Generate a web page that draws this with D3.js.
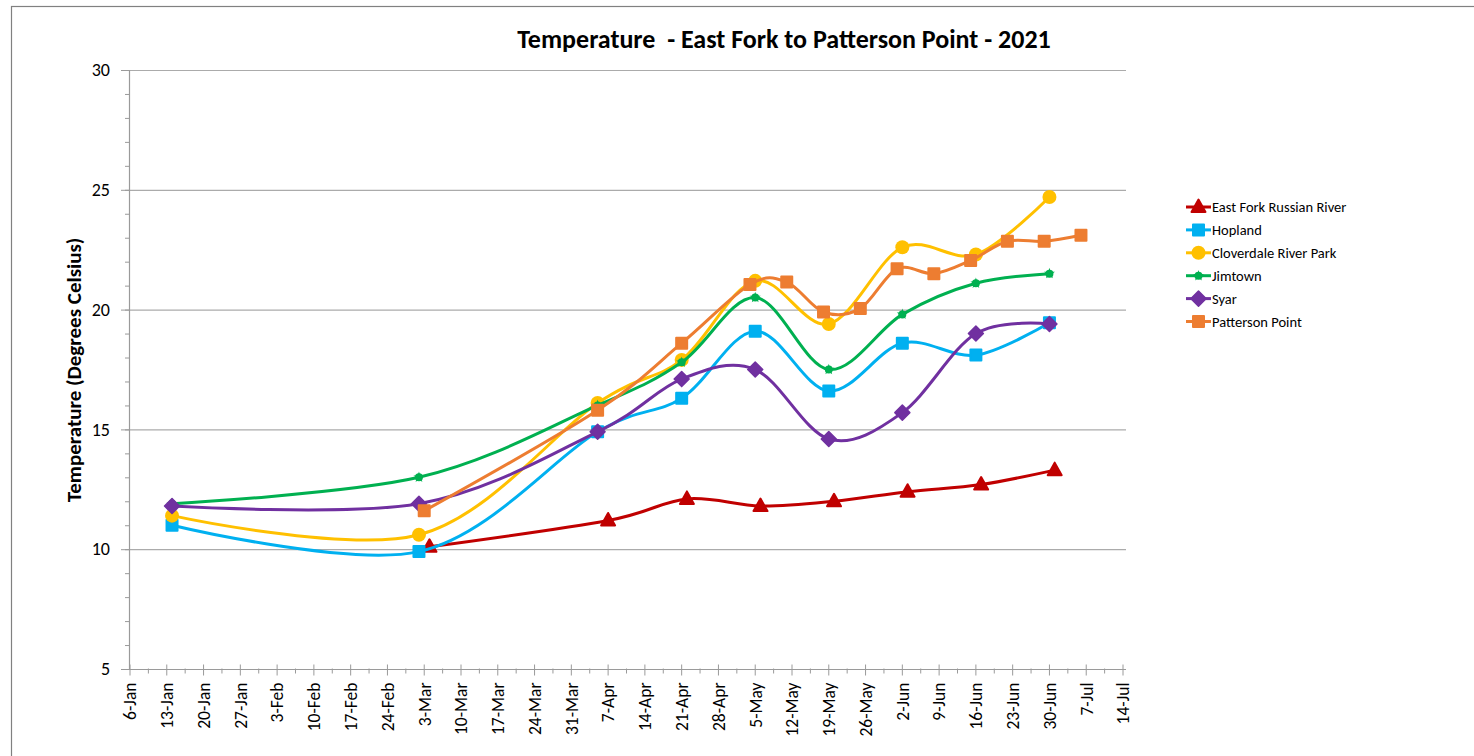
<!DOCTYPE html>
<html>
<head>
<meta charset="utf-8">
<script src="https://cdn.jsdelivr.net/npm/d3@7"></script>
<style>
  html, body { margin: 0; padding: 0; background: #fff; }
  svg { display: block; }
  text { font-family: Carlito, Calibri, Lato, "Liberation Sans", sans-serif; fill: #000; }
</style>
</head>
<body>
<svg id="chart" width="1474" height="756"></svg>
<script>
// ---- data -------------------------------------------------------------
const seriesNames = ["East Fork Russian River", "Hopland", "Cloverdale River Park", "Jimtown", "Syar", "Patterson Point"];
const seriesColors = ["#C00000", "#00B0F0", "#FFC000", "#00B050", "#7030A0", "#ED7D31"];
const seriesMarkers = ["triangle", "square", "circle", "star", "diamond", "square"];

const eastForkDates = ["2021-03-04", "2021-04-07", "2021-04-22", "2021-05-06", "2021-05-20", "2021-06-03", "2021-06-17", "2021-07-01"];
const eastFork = [10.1, 11.2, 12.1, 11.8, 12.0, 12.4, 12.7, 13.3];

const mainDates = ["2021-01-14", "2021-03-02", "2021-04-05", "2021-04-21", "2021-05-05", "2021-05-19", "2021-06-02", "2021-06-16", "2021-06-30"];
const hopland = [11.0, 9.9, 14.9, 16.3, 19.1, 16.6, 18.6, 18.1, 19.45];
const cloverdale = [11.4, 10.6, 16.1, 17.9, 21.2, 19.4, 22.6, 22.3, 24.7];
const jimtown = [11.9, 13.0, 16.0, 17.8, 20.5, 17.5, 19.8, 21.1, 21.5];
const syar = [11.8, 11.9, 14.9, 17.1, 17.5, 14.6, 15.7, 19.0, 19.4];

const pattersonDates = ["2021-03-03", "2021-04-05", "2021-04-21", "2021-05-04", "2021-05-11", "2021-05-18", "2021-05-25", "2021-06-01", "2021-06-08", "2021-06-15", "2021-06-22", "2021-06-29", "2021-07-06"];
const patterson = [11.6, 15.8, 18.6, 21.05, 21.15, 19.9, 20.05, 21.7, 21.5, 22.05, 22.85, 22.85, 23.1];

const xDomain = ["2021-01-06", "2021-07-14"];
const yTicks = [5, 10, 15, 20, 25, 30];

const titleText = "Temperature  - East Fork to Patterson Point - 2021";
const yTitleText = "Temperature (Degrees Celsius)";

// ---- setup ------------------------------------------------------------
const parse = d3.utcParse("%Y-%m-%d");
const fmt = d3.utcFormat("%-d-%b");
const svg = d3.select("#chart");

const series = [
  { dates: eastForkDates, values: eastFork },
  { dates: mainDates, values: hopland },
  { dates: mainDates, values: cloverdale },
  { dates: mainDates, values: jimtown },
  { dates: mainDates, values: syar },
  { dates: pattersonDates, values: patterson }
].map((s, i) => ({
  name: seriesNames[i], color: seriesColors[i], marker: seriesMarkers[i],
  points: s.dates.map((d, j) => ({ date: parse(d), value: s.values[j] }))
}));

const x = d3.scaleUtc().domain(xDomain.map(parse)).range([130, 1123]);
const y = d3.scaleLinear().domain([5, 30]).range([669, 70]);

// outer chart frame
svg.append("rect")
  .attr("x", 11.5).attr("y", 6.5).attr("width", 1480).attr("height", 800)
  .attr("fill", "none").attr("stroke", "#808080").attr("stroke-width", 1.2);

// title
svg.append("text")
  .attr("x", 784).attr("y", 48)
  .attr("text-anchor", "middle")
  .style("font-size", "26px").style("font-weight", "bold")
  .style("white-space", "pre")
  .text(titleText);

// horizontal gridlines
const [xr0, xr1] = x.range();
svg.append("g").selectAll("line")
  .data(yTicks.filter(t => t !== 5))
  .join("line")
  .attr("x1", xr0).attr("x2", xr1 + 3)
  .attr("y1", d => y(d) + 0.5).attr("y2", d => y(d) + 0.5)
  .attr("stroke", "#ABABAB").attr("stroke-width", 1.2);

// y axis
const yMinor = d3.range(5, 31, 1);
const yAxis = svg.append("g").attr("transform", `translate(${xr0 - 1},0)`);
yAxis.append("g")
  .call(d3.axisLeft(y).tickValues(yMinor).tickSize(4).tickFormat(""))
  .call(g => g.select(".domain").remove())
  .selectAll("line").attr("stroke", "#9A9A9A");
yAxis.append("g")
  .call(d3.axisLeft(y).tickValues(yTicks).tickSize(8).tickPadding(11).tickFormat(d3.format("d")))
  .call(g => g.select(".domain").attr("stroke", "#9A9A9A").attr("stroke-width", 1.2))
  .call(g => g.selectAll("line").attr("stroke", "#9A9A9A"))
  .call(g => g.selectAll("text").style("font-size", "18px").attr("font-family", null).attr("fill", "#000"));

// x axis
const xMajor = d3.utcWednesday.range(x.domain()[0], d3.utcDay.offset(x.domain()[1], 1));
const halfWeek = 3.5 * 24 * 3600 * 1000;
const xMinor = xMajor.slice(0, -1).map(d => new Date(+d + halfWeek));
const axisY = y(5) + 0.5;
const xAxis = svg.append("g").attr("transform", `translate(0,${axisY})`);
xAxis.append("line")
  .attr("x1", xr0 - 1).attr("x2", xr1 + 3)
  .attr("stroke", "#9A9A9A").attr("stroke-width", 1.2);
xAxis.append("g").selectAll("line")
  .data(xMinor).join("line")
  .attr("x1", d => x(d)).attr("x2", d => x(d))
  .attr("y1", -1).attr("y2", 4)
  .attr("stroke", "#9A9A9A");
xAxis.append("g").selectAll("line")
  .data(xMajor).join("line")
  .attr("x1", d => x(d)).attr("x2", d => x(d))
  .attr("y1", -5).attr("y2", 6)
  .attr("stroke", "#9A9A9A");
xAxis.append("g").selectAll("text")
  .data(xMajor).join("text")
  .attr("transform", d => `translate(${x(d)},13) rotate(-90)`)
  .attr("text-anchor", "end")
  .attr("dy", "0.36em")
  .style("font-size", "17.5px")
  .text(d => fmt(d));

// y axis title
svg.append("text")
  .attr("transform", "translate(81,370) rotate(-90)")
  .attr("text-anchor", "middle")
  .style("font-size", "21px").style("font-weight", "bold")
  .text(yTitleText);

// ---- series -----------------------------------------------------------
const line = d3.line()
  .x(d => x(d.date)).y(d => y(d.value))
  .curve(d3.curveCardinal.tension(0));

function drawMarker(sel, kind, color) {
  if (kind === "triangle") {
    sel.append("path").attr("d", "M0,-7.5 L7,5 L-7,5 Z")
      .attr("fill", color).attr("stroke", color).attr("stroke-width", 2).attr("stroke-linejoin", "round");
  } else if (kind === "square") {
    sel.append("rect").attr("x", -5.5).attr("y", -5.5).attr("width", 11).attr("height", 11)
      .attr("fill", color).attr("stroke", color).attr("stroke-width", 2).attr("stroke-linejoin", "round");
  } else if (kind === "circle") {
    sel.append("circle").attr("r", 7).attr("fill", color);
  } else if (kind === "diamond") {
    sel.append("path").attr("d", "M0,-7.5 L7.5,0 L0,7.5 L-7.5,0 Z")
      .attr("fill", color).attr("stroke", color).attr("stroke-width", 1.5).attr("stroke-linejoin", "round");
  } else if (kind === "star") {
    sel.append("circle").attr("r", 4).attr("fill", color);
    sel.append("path").attr("d", d3.symbol(d3.symbolStar, 38)())
      .attr("fill", color);
  }
}

const plot = svg.append("g");
series.forEach(s => {
  const g = plot.append("g");
  g.append("path")
    .attr("d", line(s.points))
    .attr("fill", "none").attr("stroke", s.color)
    .attr("stroke-width", 3).attr("stroke-linecap", "round").attr("stroke-linejoin", "round");
  g.selectAll("g.mk").data(s.points).join("g")
    .attr("class", "mk")
    .attr("transform", d => `translate(${x(d.date)},${y(d.value)})`)
    .each(function () { drawMarker(d3.select(this), s.marker, s.color); });
});

// ---- legend -----------------------------------------------------------
const legend = svg.append("g").attr("transform", "translate(1186,207)");
series.forEach((s, i) => {
  const row = legend.append("g").attr("transform", `translate(0,${i * 22.9})`);
  row.append("line").attr("x1", 0).attr("x2", 25).attr("y1", 0).attr("y2", 0)
    .attr("stroke", s.color).attr("stroke-width", 3);
  const m = row.append("g").attr("transform", "translate(12.5,0)");
  drawMarker(m, s.marker, s.color);
  row.append("text").attr("x", 26).attr("y", 0).attr("dy", "0.35em")
    .style("font-size", "14.5px").text(s.name);
});
</script>
</body>
</html>
